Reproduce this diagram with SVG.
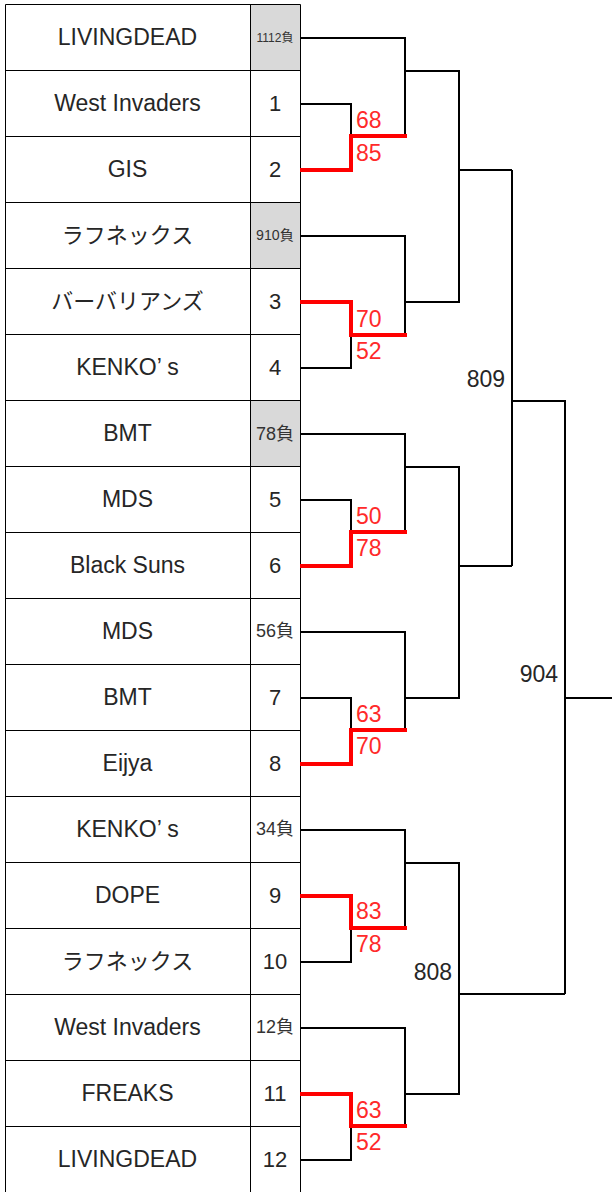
<svg xmlns="http://www.w3.org/2000/svg" width="612" height="1192" viewBox="0 0 612 1192">
<style>
.name{font-family:"Liberation Sans","Noto Sans CJK JP",sans-serif;font-size:23px;fill:#262626;text-anchor:middle}
.jp{font-family:"Noto Sans CJK JP","Liberation Sans",sans-serif;font-size:22px;fill:#262626;text-anchor:middle}
.seed{font-family:"Liberation Sans","Noto Sans CJK JP",sans-serif;font-size:22px;fill:#262626;text-anchor:middle}
.lose{font-family:"Liberation Sans","Noto Sans CJK JP",sans-serif;fill:#333;text-anchor:middle}
.grid{fill:none;stroke:#000;stroke-width:1}
.gray{fill:#d9d9d9}
.ln{fill:none;stroke:#000;stroke-width:2}
.win{fill:none;stroke:#ff0000;stroke-width:4;stroke-linejoin:miter}
.score{font-family:"Liberation Sans",sans-serif;font-size:23px;fill:#ff2a2a}
.rnd{font-family:"Liberation Sans",sans-serif;font-size:23px;fill:#262626;text-anchor:end}
</style>
<rect width="612" height="1192" fill="#fff"/>
<g id="table">
<rect class="gray" x="250" y="4" width="50" height="66"/>
<rect class="gray" x="250" y="202" width="50" height="66"/>
<rect class="gray" x="250" y="400" width="50" height="66"/>
<path class="grid" d="M5.5,4.5 H300.5 M5.5,70.5 H300.5 M5.5,136.5 H300.5 M5.5,202.5 H300.5 M5.5,268.5 H300.5 M5.5,334.5 H300.5 M5.5,400.5 H300.5 M5.5,466.5 H300.5 M5.5,532.5 H300.5 M5.5,598.5 H300.5 M5.5,664.5 H300.5 M5.5,730.5 H300.5 M5.5,796.5 H300.5 M5.5,862.5 H300.5 M5.5,928.5 H300.5 M5.5,994.5 H300.5 M5.5,1060.5 H300.5 M5.5,1126.5 H300.5 M5.5,4.5 V1192 M250.5,4.5 V1192 M300.5,4.5 V1192"/>
</g>
<g id="row0"><text class="name" x="127.5" y="45">LIVINGDEAD</text><text class="lose" x="275" y="41.5" font-size="12">1112負</text></g>
<g id="row1"><text class="name" x="127.5" y="111">West Invaders</text><text class="seed" x="275" y="111">1</text></g>
<g id="row2"><text class="name" x="127.5" y="177">GIS</text><text class="seed" x="275" y="177">2</text></g>
<g id="row3"><text class="jp" x="127.5" y="243">ラフネックス</text><text class="lose" x="275" y="240" font-size="14.2">910負</text></g>
<g id="row4"><text class="jp" x="127.5" y="309">バーバリアンズ</text><text class="seed" x="275" y="309">3</text></g>
<g id="row5"><text class="name" x="127.5" y="375">KENKO’ s</text><text class="seed" x="275" y="375">4</text></g>
<g id="row6"><text class="name" x="127.5" y="441">BMT</text><text class="lose" x="275" y="440" font-size="18">78負</text></g>
<g id="row7"><text class="name" x="127.5" y="507">MDS</text><text class="seed" x="275" y="507">5</text></g>
<g id="row8"><text class="name" x="127.5" y="573">Black Suns</text><text class="seed" x="275" y="573">6</text></g>
<g id="row9"><text class="name" x="127.5" y="639">MDS</text><text class="lose" x="275" y="637" font-size="18">56負</text></g>
<g id="row10"><text class="name" x="127.5" y="705">BMT</text><text class="seed" x="275" y="705">7</text></g>
<g id="row11"><text class="name" x="127.5" y="771">Eijya</text><text class="seed" x="275" y="771">8</text></g>
<g id="row12"><text class="name" x="127.5" y="837">KENKO’ s</text><text class="lose" x="275" y="835" font-size="18">34負</text></g>
<g id="row13"><text class="name" x="127.5" y="903">DOPE</text><text class="seed" x="275" y="903">9</text></g>
<g id="row14"><text class="jp" x="127.5" y="969">ラフネックス</text><text class="seed" x="275" y="969">10</text></g>
<g id="row15"><text class="name" x="127.5" y="1035">West Invaders</text><text class="lose" x="275" y="1033" font-size="18">12負</text></g>
<g id="row16"><text class="name" x="127.5" y="1101">FREAKS</text><text class="seed" x="275" y="1101">11</text></g>
<g id="row17"><text class="name" x="127.5" y="1167">LIVINGDEAD</text><text class="seed" x="275" y="1167">12</text></g>
<g id="connectors">
<path class="ln" d="M300,38 H405 V136 M300,104 H351 V136 M405,71 H460 M300,236 H405 V335 M300,368 H351 V335 M405,302 H460 M459,71 V302 M459,170 H512"/>
<path class="ln" d="M300,434 H405 V532 M300,500 H351 V532 M405,467 H460 M300,632 H405 V730 M300,698 H351 V730 M405,698 H460 M459,467 V698 M459,566 H512"/>
<path class="ln" d="M300,830 H405 V928 M300,962 H351 V928 M405,863 H460 M300,1028 H405 V1126 M300,1160 H351 V1126 M405,1094 H460 M459,863 V1094 M459,994 H565"/>
<path class="ln" d="M512,170 V566 M512,401 H566 M565,401 V994 M565,698 H612"/>
<path class="win" d="M300,170 H351 V136 H407 M300,302 H351 V335 H407 M300,566 H351 V532 H407 M300,764 H351 V730 H407 M300,896 H351 V928 H407 M300,1094 H351 V1126 H407"/>
</g>
<g id="scores">
<text class="score" x="356" y="128">68</text><text class="score" x="356" y="161">85</text>
<text class="score" x="356" y="327">70</text><text class="score" x="356" y="359">52</text>
<text class="score" x="356" y="523.5">50</text><text class="score" x="356" y="556">78</text>
<text class="score" x="356" y="721.5">63</text><text class="score" x="356" y="754">70</text>
<text class="score" x="356" y="919">83</text><text class="score" x="356" y="952">78</text>
<text class="score" x="356" y="1117.5">63</text><text class="score" x="356" y="1150">52</text>
</g>
<g id="rounds">
<text class="rnd" x="505" y="387">809</text>
<text class="rnd" x="558" y="682">904</text>
<text class="rnd" x="452" y="980">808</text>
</g>
</svg>
